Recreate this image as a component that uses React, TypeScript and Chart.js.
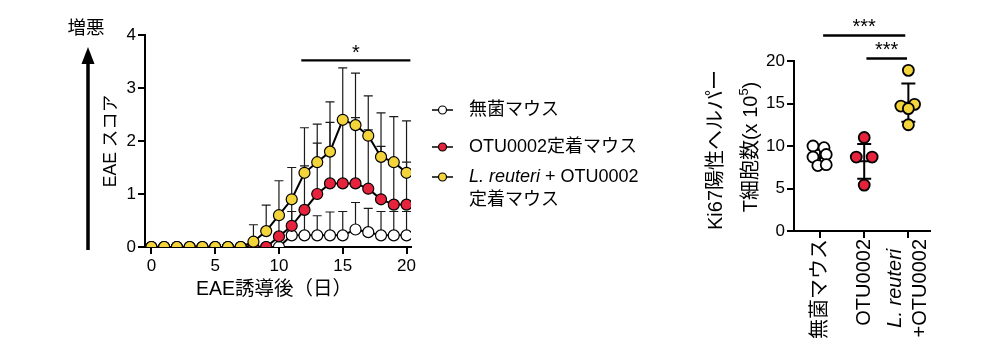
import React, { useEffect, useRef } from 'react';
import { Chart, registerables } from 'chart.js';

Chart.register(...registerables);

const FONT = "'Liberation Sans', 'Noto Sans CJK JP', Arial, sans-serif";
const font = (size: number, style = '') => `${style} ${size}px ${FONT}`.trim();

const RED = '#e6223d';
const YELLOW = '#f3d43b';
const WHITE = '#ffffff';

// ---- Left chart: EAE score over days ----
const days = [0, 1, 2, 3, 4, 5, 6, 7, 8, 9, 10, 11, 12, 13, 14, 15, 16, 17, 18, 19, 20];
const gfMean = [0, 0, 0, 0, 0, 0, 0, 0, 0, 0, 0, 0.22, 0.22, 0.22, 0.22, 0.22, 0.33, 0.28, 0.22, 0.22, 0.22];
const gfSD = [0, 0, 0, 0, 0, 0, 0, 0, 0, 0, 0, 0.45, 0.45, 0.37, 0.44, 0.45, 0.51, 0.45, 0.45, 0.45, 0.45];
const otuMean = [0, 0, 0, 0, 0, 0, 0, 0, 0, 0, 0.2, 0.4, 0.7, 1.0, 1.2, 1.2, 1.2, 1.1, 0.9, 0.8, 0.8];
const otuSD = [0, 0, 0, 0, 0, 0, 0, 0, 0, 0, 0.38, 0.48, 0.83, 0.96, 1.15, 1.2, 1.24, 1.11, 1.0, 0.8, 0.8];
const lrMean = [0, 0, 0, 0, 0, 0, 0, 0, 0.1, 0.3, 0.6, 0.9, 1.4, 1.6, 1.8, 2.4, 2.3, 2.1, 1.7, 1.6, 1.4];
const lrSD = [0, 0, 0, 0, 0, 0, 0, 0, 0.32, 0.49, 0.65, 0.6, 0.85, 0.72, 0.94, 0.98, 0.98, 0.75, 0.83, 0.86, 0.98];
const dayTicks = [0, 5, 10, 15, 20];
const scoreTicks = [0, 1, 2, 3, 4];
const seriesLabels = ['無菌マウス', 'OTU0002定着マウス', 'L. reuteri + OTU0002 定着マウス'];

// ---- Right chart: Ki67+ helper T cells ----
const groups = ['無菌マウス', 'OTU0002', 'L. reuteri +OTU0002'];
const gfKi67 = [10.0, 9.8, 8.7, 9.0, 7.7, 7.8];
const gfJitter = [-0.16, 0.09, -0.16, 0.14, -0.05, 0.14];
const otuKi67 = [11.0, 8.7, 8.7, 5.4];
const otuJitter = [0, -0.18, 0.18, 0];
const lrKi67 = [18.9, 14.7, 14.9, 14.4, 12.5];
const lrJitter = [0, -0.17, 0.14, 0, 0];
const ki67Mean = [8.6, 8.2, 15.1];
const ki67SD = [0.95, 2.05, 2.25];
const ki67Ticks = [0, 5, 10, 15, 20];

type Seg = { text: string; font: string; dy?: number };

function drawRich(ctx: CanvasRenderingContext2D, x: number, y: number, angle: number, segs: Seg[], align: 'left' | 'center' | 'right') {
  ctx.save();
  ctx.translate(x, y);
  ctx.rotate(angle);
  ctx.textBaseline = 'middle';
  ctx.textAlign = 'left';
  ctx.fillStyle = '#000';
  let total = 0;
  const widths = segs.map((s) => {
    ctx.font = s.font;
    const w = ctx.measureText(s.text).width;
    total += w;
    return w;
  });
  let cur = align === 'left' ? 0 : align === 'center' ? -total / 2 : -total;
  segs.forEach((s, i) => {
    ctx.font = s.font;
    ctx.fillText(s.text, cur, s.dy || 0);
    cur += widths[i];
  });
  ctx.restore();
}

const errPlugin = {
  id: 'errbars',
  beforeDatasetDraw(chart: any, args: any) {
    const ds = chart.data.datasets[args.index];
    const sd: number[] | undefined = ds.sd;
    if (!sd) return;
    const ctx = chart.ctx as CanvasRenderingContext2D;
    const ys = chart.scales.y;
    ctx.save();
    ctx.strokeStyle = '#1a1a1a';
    ctx.lineWidth = 1.2;
    args.meta.data.forEach((pt: any, i: number) => {
      if (!(sd[i] > 0)) return;
      const v = ds.data[i].y;
      const y0 = ys.getPixelForValue(v);
      const y1 = ys.getPixelForValue(v + sd[i]);
      ctx.beginPath();
      ctx.moveTo(pt.x, y0);
      ctx.lineTo(pt.x, y1);
      ctx.moveTo(pt.x - 4.5, y1);
      ctx.lineTo(pt.x + 4.5, y1);
      ctx.stroke();
    });
    ctx.restore();
  },
};

const leftDeco = {
  id: 'leftDeco',
  afterDraw(chart: any) {
    const ctx = chart.ctx as CanvasRenderingContext2D;
    const xs = chart.scales.x;
    const ys = chart.scales.y;
    const ca = chart.chartArea;
    // "worsening" label + arrow
    drawRich(ctx, 86, 29, 0, [{ text: '増悪', font: font(18.5) }], 'center');
    ctx.save();
    ctx.strokeStyle = '#000';
    ctx.fillStyle = '#000';
    ctx.lineWidth = 3.5;
    ctx.beginPath();
    ctx.moveTo(88, 250);
    ctx.lineTo(88, 60);
    ctx.stroke();
    ctx.beginPath();
    ctx.moveTo(88, 47);
    ctx.lineTo(81.5, 64);
    ctx.lineTo(94.5, 64);
    ctx.closePath();
    ctx.fill();
    ctx.restore();
    // axis titles
    drawRich(ctx, 111, (ca.top + ca.bottom) / 2, -Math.PI / 2, [{ text: 'EAE スコア', font: font(17.5) }], 'center');
    drawRich(ctx, (ca.left + ca.right) / 2 - 4, 290, 0, [{ text: 'EAE誘導後（日）', font: font(19.5) }], 'center');
    // significance bar
    const sx0 = xs.getPixelForValue(11.75);
    const sx1 = xs.getPixelForValue(20.3);
    const sy = ys.getPixelForValue(3.52);
    ctx.save();
    ctx.strokeStyle = '#000';
    ctx.lineWidth = 2.2;
    ctx.beginPath();
    ctx.moveTo(sx0, sy);
    ctx.lineTo(sx1, sy);
    ctx.stroke();
    ctx.restore();
    drawRich(ctx, (sx0 + sx1) / 2, sy - 7, 0, [{ text: '*', font: font(20) }], 'center');
    // legend
    const rows = [
      { y: 110, fill: WHITE },
      { y: 147, fill: RED },
      { y: 177, fill: YELLOW },
    ];
    rows.forEach((r) => {
      ctx.save();
      ctx.strokeStyle = '#000';
      ctx.lineWidth = 1.5;
      ctx.beginPath();
      ctx.moveTo(432, r.y);
      ctx.lineTo(453, r.y);
      ctx.stroke();
      ctx.beginPath();
      ctx.arc(442.5, r.y, 4, 0, Math.PI * 2);
      ctx.fillStyle = r.fill;
      ctx.fill();
      ctx.lineWidth = 1.2;
      ctx.stroke();
      ctx.restore();
    });
    drawRich(ctx, 469, rows[0].y, 0, [{ text: seriesLabels[0], font: font(18) }], 'left');
    drawRich(ctx, 469, rows[1].y, 0, [{ text: seriesLabels[1], font: font(18) }], 'left');
    drawRich(ctx, 469, rows[2].y, 0, [
      { text: 'L. reuteri', font: font(18, 'italic') },
      { text: ' + OTU0002', font: font(18) },
    ], 'left');
    drawRich(ctx, 469, rows[2].y + 23, 0, [{ text: '定着マウス', font: font(18) }], 'left');
  },
};

const rightDeco = {
  id: 'rightDeco',
  beforeDatasetsDraw(chart: any) {
    const ctx = chart.ctx as CanvasRenderingContext2D;
    const xs = chart.scales.x;
    const ys = chart.scales.y;
    ctx.save();
    ctx.strokeStyle = '#000';
    ctx.lineWidth = 2;
    ki67Mean.forEach((m, i) => {
      const x = xs.getPixelForValue(i);
      const ym = ys.getPixelForValue(m);
      const yt = ys.getPixelForValue(m + ki67SD[i]);
      const yb = ys.getPixelForValue(m - ki67SD[i]);
      ctx.beginPath();
      ctx.moveTo(x - 11, ym);
      ctx.lineTo(x + 11, ym);
      ctx.moveTo(x, yt);
      ctx.lineTo(x, yb);
      ctx.moveTo(x - 7, yt);
      ctx.lineTo(x + 7, yt);
      ctx.moveTo(x - 7, yb);
      ctx.lineTo(x + 7, yb);
      ctx.stroke();
    });
    ctx.restore();
  },
  afterDraw(chart: any) {
    const ctx = chart.ctx as CanvasRenderingContext2D;
    const xs = chart.scales.x;
    const ys = chart.scales.y;
    const ca = chart.chartArea;
    // y title (two lines)
    drawRich(ctx, 716.5 - 660, 150, -Math.PI / 2, [{ text: 'Ki67陽性ヘルパー', font: font(20) }], 'center');
    drawRich(ctx, 751.5 - 660, 147, -Math.PI / 2, [
      { text: 'T細胞数(x 10', font: font(20) },
      { text: '5', font: font(13), dy: -7 },
      { text: ')', font: font(20) },
    ], 'center');
    // x labels (rotated)
    const top = ca.bottom + 8;
    drawRich(ctx, xs.getPixelForValue(0), top, -Math.PI / 2, [{ text: groups[0], font: font(20) }], 'right');
    drawRich(ctx, xs.getPixelForValue(1), top, -Math.PI / 2, [{ text: groups[1], font: font(20) }], 'right');
    ctx.save();
    ctx.font = font(20);
    const w2 = ctx.measureText('+OTU0002').width;
    ctx.restore();
    const x2 = xs.getPixelForValue(2);
    drawRich(ctx, x2 - 12.5, top + w2 / 2, -Math.PI / 2, [{ text: 'L. reuteri', font: font(20, 'italic') }], 'center');
    drawRich(ctx, x2 + 12.5, top + w2 / 2, -Math.PI / 2, [{ text: '+OTU0002', font: font(20) }], 'center');
    // significance bars
    const bars = [
      { a: 0.07, b: 1.93, v: 23.0 },
      { a: 1.05, b: 1.97, v: 20.3 },
    ];
    bars.forEach((bb) => {
      const xa = xs.getPixelForValue(bb.a);
      const xb = xs.getPixelForValue(bb.b);
      const y = ys.getPixelForValue(bb.v);
      ctx.save();
      ctx.strokeStyle = '#000';
      ctx.lineWidth = 2.4;
      ctx.beginPath();
      ctx.moveTo(xa, y);
      ctx.lineTo(xb, y);
      ctx.stroke();
      ctx.restore();
      drawRich(ctx, (xa + xb) / 2, y - 8, 0, [{ text: '***', font: font(20) }], 'center');
    });
  },
};

function axisCommon(size: number) {
  return {
    grid: { drawOnChartArea: false, drawTicks: true, tickLength: 7, color: '#000', lineWidth: 2 },
    border: { color: '#000', width: 2 },
    ticks: { color: '#000', font: { family: FONT, size }, padding: 2, autoSkip: false, maxRotation: 0 },
  };
}

export default function App() {
  const leftRef = useRef<HTMLCanvasElement>(null);
  const rightRef = useRef<HTMLCanvasElement>(null);

  useEffect(() => {
    const pt = (fill: string) => ({
      showLine: true,
      borderColor: '#000',
      borderWidth: 2,
      backgroundColor: fill,
      pointBackgroundColor: fill,
      pointBorderColor: '#000',
      pointBorderWidth: 1.2,
      pointRadius: 5.5,
      pointHoverRadius: 5.5,
    });
    const left = new Chart(leftRef.current as HTMLCanvasElement, {
      type: 'scatter',
      data: {
        datasets: [
          { label: seriesLabels[2], data: days.map((d, i) => ({ x: d, y: lrMean[i] })), sd: lrSD, ...pt(YELLOW) } as any,
          { label: seriesLabels[1], data: days.map((d, i) => ({ x: d, y: otuMean[i] })), sd: otuSD, ...pt(RED) } as any,
          { label: seriesLabels[0], data: days.map((d, i) => ({ x: d, y: gfMean[i] })), sd: gfSD, ...pt(WHITE) } as any,
        ],
      },
      options: {
        animation: false,
        responsive: false,
        devicePixelRatio: 1,
        layout: { padding: { left: 0, top: 35, right: 249, bottom: 0 } },
        plugins: { legend: { display: false }, tooltip: { enabled: false } },
        scales: {
          x: {
            type: 'linear',
            min: -0.5,
            max: 20.35,
            ...axisCommon(17),
            afterBuildTicks: (s: any) => { s.ticks = dayTicks.map((v) => ({ value: v })); },
            afterFit: (s: any) => { s.height = 107; },
          },
          y: {
            type: 'linear',
            min: 0,
            max: 4,
            ...axisCommon(17),
            afterBuildTicks: (s: any) => { s.ticks = scoreTicks.map((v) => ({ value: v })); },
            afterFit: (s: any) => { s.width = 145; },
          },
        },
      } as any,
      plugins: [errPlugin, leftDeco],
    });

    const dot = (fill: string) => ({
      backgroundColor: fill,
      pointBackgroundColor: fill,
      pointBorderColor: '#000',
      pointBorderWidth: 1.8,
      pointRadius: 5.5,
      pointHoverRadius: 5.5,
      showLine: false,
    });
    const right = new Chart(rightRef.current as HTMLCanvasElement, {
      type: 'scatter',
      data: {
        datasets: [
          { label: groups[0], data: gfKi67.map((v, i) => ({ x: 0 + gfJitter[i], y: v })), ...dot(WHITE) },
          { label: groups[1], data: otuKi67.map((v, i) => ({ x: 1 + otuJitter[i], y: v })), ...dot(RED) },
          { label: groups[2], data: lrKi67.map((v, i) => ({ x: 2 + lrJitter[i], y: v })), ...dot(YELLOW) },
        ],
      },
      options: {
        animation: false,
        responsive: false,
        devicePixelRatio: 1,
        layout: { padding: { left: 0, top: 61, right: 74, bottom: 0 } },
        plugins: { legend: { display: false }, tooltip: { enabled: false } },
        scales: {
          x: {
            type: 'linear',
            min: -0.59,
            max: 2.49,
            ...axisCommon(17),
            ticks: { display: true, color: '#000', font: { family: FONT, size: 17 }, callback: () => '' },
            afterBuildTicks: (s: any) => { s.ticks = [0, 1, 2].map((v) => ({ value: v })); },
            afterFit: (s: any) => { s.height = 123; },
          },
          y: {
            type: 'linear',
            min: 0,
            max: 20,
            ...axisCommon(17),
            afterBuildTicks: (s: any) => { s.ticks = ki67Ticks.map((v) => ({ value: v })); },
            afterFit: (s: any) => { s.width = 134; },
          },
        },
      } as any,
      plugins: [rightDeco],
    });

    return () => {
      left.destroy();
      right.destroy();
    };
  }, []);

  return (
    <div style={{ position: 'fixed', left: 0, top: 0, width: 1004, height: 354, background: '#fff', overflow: 'hidden' }}>
      <canvas ref={leftRef} width={660} height={354} style={{ position: 'absolute', left: 0, top: 0, width: 660, height: 354 }} />
      <canvas ref={rightRef} width={344} height={354} style={{ position: 'absolute', left: 660, top: 0, width: 344, height: 354 }} />
    </div>
  );
}
